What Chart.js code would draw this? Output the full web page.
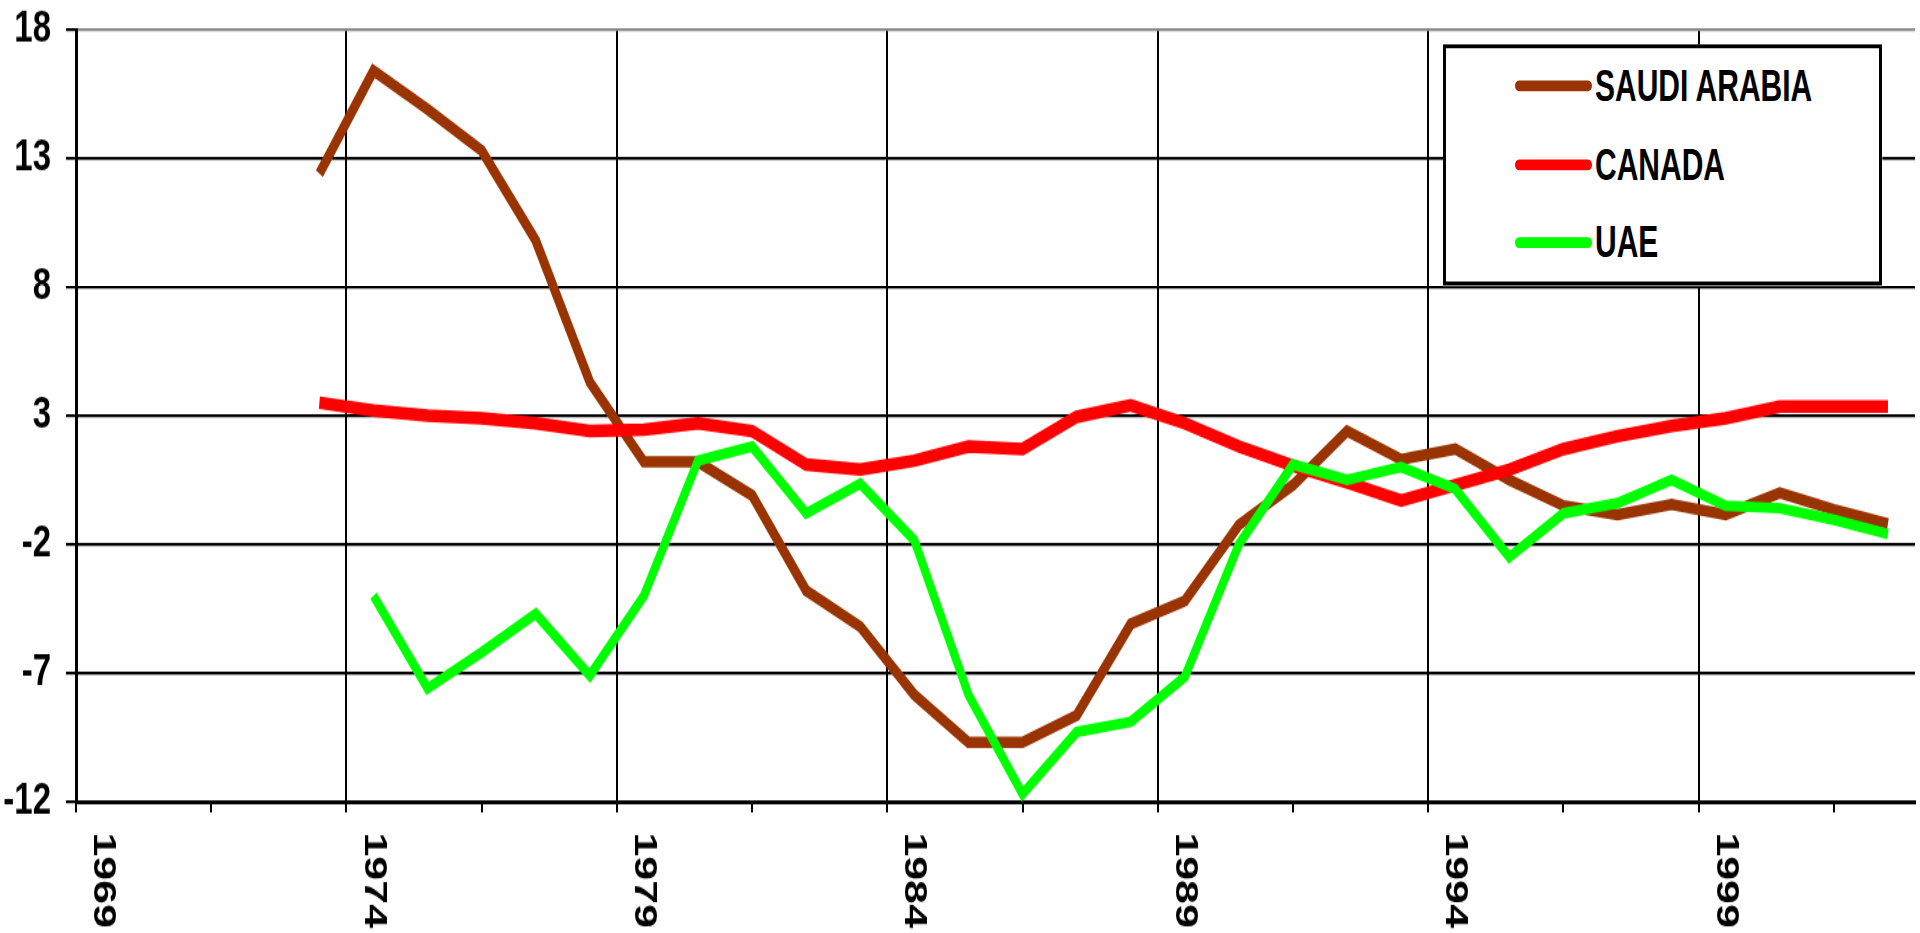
<!DOCTYPE html>
<html>
<head>
<meta charset="utf-8">
<title>Saudi Arabia, Canada, UAE</title>
<script src="https://cdn.jsdelivr.net/npm/chart.js@4.4.1/dist/chart.umd.min.js"></script>
<style>
  html, body { margin: 0; padding: 0; background: #fff; }
  #page { position: relative; width: 1920px; height: 933px; overflow: hidden; }
  /* the chart is laid out at 1920x696 and stretched to the full page height */
  #stage {
    position: absolute; left: 0; top: 0; width: 1920px; height: 696px;
    transform: scale(1, 1.3405); transform-origin: 0 0;
  }
  #chart { display: block; width: 1920px; height: 696px; }
  #legend {
    position: absolute; left: 1443px; top: 33px; width: 439px; height: 180px;
    box-sizing: border-box; background: #fff; border: 3px solid #000;
  }
  .item { position: absolute; left: 69px; height: 36px; display: flex; align-items: center; }
  .swatch { width: 77px; height: 8px; border-radius: 4px; margin-right: 3px; }
  .name {
    display: inline-block; transform: scaleY(1.1);
    font-family: 'Liberation Sans', Arial, sans-serif;
    font-weight: bold; font-size: 30px; line-height: 36px; color: #000; white-space: nowrap;
  }
</style>
</head>
<body>
<div id="page">
  <div id="stage">
    <canvas id="chart" width="1920" height="696" style="width:1920px;height:696px"></canvas>
    <div id="legend"></div>
  </div>
</div>
<script>
// Yearly values, 1969-2002
const years = [1969, 1970, 1971, 1972, 1973, 1974, 1975, 1976, 1977, 1978,
               1979, 1980, 1981, 1982, 1983, 1984, 1985, 1986, 1987, 1988,
               1989, 1990, 1991, 1992, 1993, 1994, 1995, 1996, 1997, 1998,
               1999, 2000, 2001, 2002];
const labelYears = [1969, 1974, 1979, 1984, 1989, 1994, 1999];
const yTicks = [-12, -7, -2, 3, 8, 13, 18];

const saudiArabia = [null, null, null, null, 12.4, 16.4, 14.9, 13.3, 9.8, 4.3,
                     1.2, 1.2, -0.1, -3.8, -5.2, -7.85, -9.7, -9.7, -8.65, -5.1,
                     -4.2, -1.25, 0.3, 2.4, 1.3, 1.7, 0.5, -0.5, -0.85, -0.45,
                     -0.85, 0.0, -0.65, -1.2];
const canada = [null, null, null, null, 3.5, 3.2, 3.0, 2.9, 2.7, 2.4,
                2.45, 2.7, 2.4, 1.1, 0.9, 1.25, 1.8, 1.7, 2.95, 3.4,
                2.7, 1.8, 1.05, 0.4, -0.3, 0.3, 0.9, 1.7, 2.2, 2.6,
                2.9, 3.35, 3.35, 3.35];
const uae = [null, null, null, null, null, -4.0, -7.6, -6.2, -4.7, -7.1,
             -4.0, 1.25, 1.8, -0.8, 0.35, -1.85, -7.85, -11.7, -9.3, -8.9,
             -7.15, -2.0, 1.1, 0.5, 1.0, 0.15, -2.5, -0.8, -0.4, 0.5,
             -0.5, -0.6, -1.05, -1.6];

const seriesNames = ['SAUDI ARABIA', 'CANADA', 'UAE'];

// Styling
const seriesStyle = [
  { color: '#993300', width: 8.5, order: 3 },
  { color: '#ff0000', width: 9.5, order: 2 },
  { color: '#00ff00', width: 8, order: 1 }
];
const boldFont = "'Liberation Sans', Arial, sans-serif";

// Linear x scale whose rotated labels read top-to-bottom, starting under the tick
class DownLabelScale extends Chart.LinearScale {
  _getXAxisLabelAlignment() { return 'left'; }
}
DownLabelScale.id = 'downLinear';
DownLabelScale.defaults = Chart.LinearScale.defaults;
Chart.register(DownLabelScale);

const toPoints = vals => years
  .map((yr, i) => ({ x: yr, y: vals[i] }))
  .filter(p => p.y !== null);

const datasets = [saudiArabia, canada, uae].map((vals, i) => ({
  label: seriesNames[i],
  data: toPoints(vals),
  borderColor: seriesStyle[i].color,
  backgroundColor: seriesStyle[i].color,
  borderWidth: seriesStyle[i].width,
  order: seriesStyle[i].order,
  pointRadius: 0,
  pointHoverRadius: 0,
  tension: 0,
  fill: false
}));

const isMajor = v => labelYears.includes(v + 0.5);

const chart = new Chart(document.getElementById('chart'), {
  type: 'line',
  data: { datasets },
  options: {
    responsive: false,
    animation: false,
    events: [],
    devicePixelRatio: 1,
    layout: { padding: { top: 22, right: 5, left: 0, bottom: 0 } },
    plugins: { legend: { display: false }, tooltip: { enabled: false } },
    scales: {
      x: {
        type: 'downLinear',
        min: years[0] - 0.5,
        max: years[years.length - 1] + 0.5,
        afterBuildTicks(scale) {
          const t = [];
          labelYears.forEach(yr => {
            t.push({ value: yr - 0.5 });
            if (yr + 2 <= scale.max) t.push({ value: yr + 2 });
          });
          scale.ticks = t;
        },
        afterFit(scale) {
          scale.height = 98;
          scale.paddingLeft = 0;
          scale.paddingRight = 0;
        },
        ticks: {
          autoSkip: false,
          minRotation: -90,
          maxRotation: -90,
          padding: 15,
          labelOffset: 27,
          color: '#000',
          font: { family: boldFont, weight: 'bold', size: 32 },
          callback(value) { return isMajor(value) ? String(value + 0.5) : ''; }
        },
        grid: {
          color: ctx => (ctx.tick && isMajor(ctx.tick.value)) ? '#000' : 'rgba(0,0,0,0)',
          tickColor: '#000',
          lineWidth: 2,
          tickLength: 8
        },
        border: { color: '#000', width: 3 }
      },
      y: {
        min: yTicks[0],
        max: yTicks[yTicks.length - 1],
        afterBuildTicks(scale) { scale.ticks = yTicks.map(v => ({ value: v })); },
        afterFit(scale) {
          scale.width = 76;
          scale.paddingTop = 0;
          scale.paddingBottom = 0;
        },
        ticks: {
          padding: 15,
          color: '#000',
          font: { family: boldFont, weight: 'bold', size: 33 }
        },
        grid: {
          color: ctx => (ctx.tick && ctx.tick.value === yTicks[yTicks.length - 1]) ? '#8c8c8c' : '#000',
          tickColor: '#000',
          lineWidth: 2.2,
          tickLength: 10
        },
        border: { color: '#000', width: 3 }
      }
    }
  }
});

// Boxed legend in the upper right of the plot
const legendEl = document.getElementById('legend');
const rowTops = [10, 68.5, 126.7];
chart.data.datasets.forEach((ds, i) => {
  const item = document.createElement('div');
  item.className = 'item';
  item.style.top = rowTops[i] + 'px';
  const sw = document.createElement('span');
  sw.className = 'swatch';
  sw.style.background = ds.borderColor;
  const name = document.createElement('span');
  name.className = 'name';
  name.textContent = ds.label;
  item.appendChild(sw);
  item.appendChild(name);
  legendEl.appendChild(item);
});
</script>
</body>
</html>
